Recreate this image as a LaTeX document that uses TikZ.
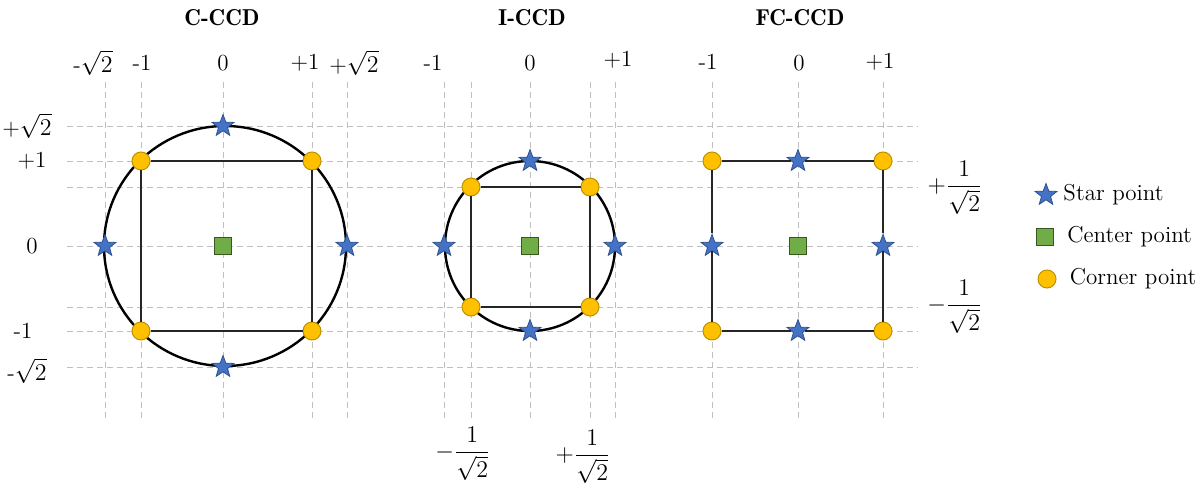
\documentclass[tikz,border=0pt]{standalone}
\usepackage{amsmath, amssymb}
\usepackage{tikz}
\usetikzlibrary{shapes.geometric, positioning}

\definecolor{starblue}{HTML}{4472C4}
\definecolor{stardark}{HTML}{2F528F}
\definecolor{centergreen}{HTML}{70AD47}
\definecolor{centerdark}{HTML}{385723}
\definecolor{corneryellow}{HTML}{FFC000}
\definecolor{cornerdark}{HTML}{BF9000}
\definecolor{gridgray}{HTML}{BFBFBF}

\begin{document}
\begin{tikzpicture}[
        x=0.5pt, y=-0.5pt,
        font=\fontsize{11.5}{13}\selectfont,
        gridline/.style={draw=gridgray, line width=0.45pt, dash pattern=on 3pt off 2pt},
        ring/.style={draw=black, line width=1.2pt},
        edge/.style={draw=black!85, line width=1.1pt},
        starpt/.style={star, star points=5, star point ratio=2.4, fill=starblue, draw=stardark, line width=0.4pt, minimum size=11.5pt, inner sep=0pt},
        centerpt/.style={rectangle, fill=centergreen, draw=centerdark, line width=0.5pt, minimum size=8.5pt, inner sep=0pt},
        cornerpt/.style={circle, fill=corneryellow, draw=cornerdark, line width=0.5pt, minimum size=9pt, inner sep=0pt},
        title/.style={font=\fontsize{11.5}{13}\fontseries{b}\selectfont},
        tick/.style={inner sep=0pt},
        keytext/.style={inner sep=0pt, anchor=west}
    ]
        \useasboundingbox (0,0) rectangle (1203,486);

        \foreach \gy in {126,161,187,246,307,331,367}
            \draw[gridline] (67,\gy) -- (918,\gy);
        \foreach \gx in {105,141,223,312,347,444,471,530,590,615,712,798,883}
            \draw[gridline] (\gx,82) -- (\gx,421);

        \node[title] (ttl-c) at (222,18) {C-CCD};
        \node[title] (ttl-i) at (532,18) {I-CCD};
        \node[title] (ttl-f) at (800,18) {FC-CCD};

        \node[tick] (cx-m2) at (93,63) {-$\sqrt{2}$};
        \node[tick] (cx-m1) at (142,63) {-1};
        \node[tick] (cx-0) at (223,63) {0};
        \node[tick] (cx-p1) at (305,63) {+1};
        \node[tick] (cx-p2) at (354,63) {+$\sqrt{2}$};
        \node[tick] (cy-p2) at (27,126) {+$\sqrt{2}$};
        \node[tick] (cy-p1) at (32,161) {+1};
        \node[tick] (cy-0) at (32,246) {0};
        \node[tick] (cy-m1) at (23,331) {-1};
        \node[tick] (cy-m2) at (27,371) {-$\sqrt{2}$};

        \node[tick] (ix-m1) at (433,63) {-1};
        \node[tick] (ix-0) at (530,63) {0};
        \node[tick] (ix-p1) at (618,60) {+1};
        \node[tick] (ix-mh) at (463,454) {$-\dfrac{1}{\sqrt{2}}$};
        \node[tick] (ix-ph) at (583,457) {$+\dfrac{1}{\sqrt{2}}$};
        \node[tick] (iy-ph) at (955,188) {$+\dfrac{1}{\sqrt{2}}$};
        \node[tick] (iy-mh) at (955,307) {$-\dfrac{1}{\sqrt{2}}$};

        \node[tick] (fx-m1) at (708,62) {-1};
        \node[tick] (fx-0) at (799,63) {0};
        \node[tick] (fx-p1) at (880,62) {+1};

        \draw[ring] (225,246) ellipse [x radius=121, y radius=120];
        \draw[ring] (530,246) circle [radius=85];

        \node[centerpt] (c-0) at (223,246) {};
        \node[cornerpt] (c-nw) at (141,161) {};
        \node[cornerpt] (c-ne) at (312,161) {};
        \node[cornerpt] (c-sw) at (141,331) {};
        \node[cornerpt] (c-se) at (312,331) {};
        \node[starpt] (c-n) at (223,126) {};
        \node[starpt] (c-s) at (223,367) {};
        \node[starpt] (c-w) at (105,246) {};
        \node[starpt] (c-e) at (347,246) {};
        \draw[edge] (c-nw) -- (c-ne);
        \draw[edge] (c-ne) -- (c-se);
        \draw[edge] (c-se) -- (c-sw);
        \draw[edge] (c-sw) -- (c-nw);

        \node[centerpt] (i-0) at (530,246) {};
        \node[cornerpt] (i-nw) at (471,187) {};
        \node[cornerpt] (i-ne) at (590,187) {};
        \node[cornerpt] (i-sw) at (471,307) {};
        \node[cornerpt] (i-se) at (590,307) {};
        \node[starpt] (i-n) at (530,161) {};
        \node[starpt] (i-s) at (530,331) {};
        \node[starpt] (i-w) at (444,246) {};
        \node[starpt] (i-e) at (615,246) {};
        \draw[edge] (i-nw) -- (i-ne);
        \draw[edge] (i-ne) -- (i-se);
        \draw[edge] (i-se) -- (i-sw);
        \draw[edge] (i-sw) -- (i-nw);

        \node[centerpt] (f-0) at (798,246) {};
        \node[cornerpt] (f-nw) at (712,161) {};
        \node[cornerpt] (f-ne) at (883,161) {};
        \node[cornerpt] (f-sw) at (712,331) {};
        \node[cornerpt] (f-se) at (883,331) {};
        \node[starpt] (f-n) at (798,161) {};
        \node[starpt] (f-s) at (798,331) {};
        \node[starpt] (f-w) at (712,246) {};
        \node[starpt] (f-e) at (883,246) {};
        \draw[edge] (f-nw) -- (f-n) -- (f-ne);
        \draw[edge] (f-ne) -- (f-e) -- (f-se);
        \draw[edge] (f-se) -- (f-s) -- (f-sw);
        \draw[edge] (f-sw) -- (f-w) -- (f-nw);

        \node[starpt] (key-star) at (1046,195) {};
        \node[keytext, right=5pt of key-star] (key-star-txt) {Star point};
        \node[centerpt] (key-center) at (1045,237) {};
        \node[keytext, right=6.5pt of key-center] (key-center-txt) {Center point};
        \node[cornerpt] (key-corner) at (1047,279) {};
        \node[keytext, right=6.5pt of key-corner] (key-corner-txt) {Corner point};
    \end{tikzpicture}
\end{document}
